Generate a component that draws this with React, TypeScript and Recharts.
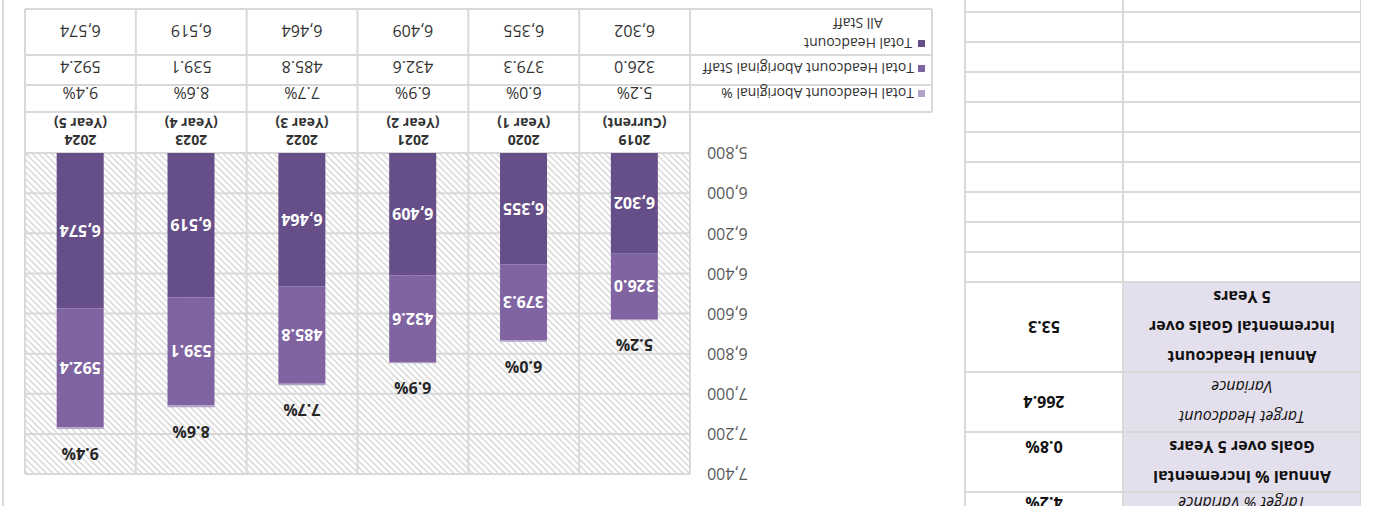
import React from 'react';
import { BarChart, Bar, XAxis, YAxis, CartesianGrid, LabelList } from 'recharts';

// categories and series
const years = ['2019', '2020', '2021', '2022', '2023', '2024'];
const yearNotes = ['(Current)', '(Year 1)', '(Year 2)', '(Year 3)', '(Year 4)', '(Year 5)'];
const totalHeadcount = [6302, 6355, 6409, 6464, 6519, 6574];
const aboriginalStaff = [326.0, 379.3, 432.6, 485.8, 539.1, 592.4];
const aboriginalPct = [5.2, 6.0, 6.9, 7.7, 8.6, 9.4];
const yTicks = [5800, 6000, 6200, 6400, 6600, 6800, 7000, 7200, 7400];
const seriesNames = ['Total Headcount Aboriginal %', 'Total Headcount Aboriginal Staff', 'Total Headcount All Staff'];

// side summary table
const sideLabels = [
  ['Target % Variance'],
  ['Annual % Incremental', 'Goals over 5 Years'],
  ['Target Headcount', 'Variance'],
  ['Annual Headcount', 'Incremental Goals over', '5 Years'],
];
const sideValues = ['4.2%', '0.8%', '266.4', '53.3'];
const sideItalic = [true, false, true, false];

const DARK = '#664f88';
const MID = '#8064a2';
const LIGHT = '#b3a2c7';
const GRID = '#d9d9d9';
const TEXT = '#333333';

const data = years.map((year, i) => ({
  year,
  note: yearNotes[i],
  total: totalHeadcount[i],
  aboriginal: aboriginalStaff[i],
  pct: aboriginalPct[i],
}));

// layout (chart drawn upright, then the whole page is turned round)
const CHART_X = 410;
const CHART_W = 963;
const CHART_H = 506;
const MARGIN = { top: 32, right: 23, bottom: 0, left: 225 };
const Y_W = 50;
const PLOT_L = MARGIN.left + Y_W;
const PLOT_R = CHART_W - MARGIN.right;
const PLOT_B = 353;
const COL_W = (PLOT_R - PLOT_L) / years.length;
const ROW_LINES = [394, 421, 451, 497];
const LEGEND_L = 33;

const fmtInt = (v: number) => v.toLocaleString('en-US');

const DarkLabel = (props: any) => {
  const { x, y, width, height, value } = props;
  const bottom = Math.min(y + height, PLOT_B);
  return (
    <text x={x + width / 2} y={(y + bottom) / 2} fill="#fff" fontSize={16} fontWeight={700}
      textAnchor="middle" dominantBaseline="central">{fmtInt(value)}</text>
  );
};

const MidLabel = (props: any) => {
  const { x, y, width, height, value } = props;
  return (
    <text x={x + width / 2} y={y + height / 2} fill="#fff" fontSize={16} fontWeight={700}
      textAnchor="middle" dominantBaseline="central">{Number(value).toFixed(1)}</text>
  );
};

const PctLabel = (props: any) => {
  const { x, y, width, value } = props;
  return (
    <text x={x + width / 2} y={y - 25} fill="#262626" fontSize={16} fontWeight={700}
      textAnchor="middle" dominantBaseline="central">{Number(value).toFixed(1)}%</text>
  );
};

const TableColumn = (props: any) => {
  const { x, index } = props;
  const d = data[index];
  const left = x - COL_W / 2;
  const right = x + COL_W / 2;
  const txt = { textAnchor: 'middle' as const, dominantBaseline: 'central' as const, fill: TEXT };
  return (
    <g>
      <line x1={right} x2={right} y1={PLOT_B} y2={ROW_LINES[3]} stroke={GRID} strokeWidth={2} />
      {index === 0 && <line x1={left} x2={left} y1={PLOT_B} y2={ROW_LINES[3]} stroke={GRID} strokeWidth={2} />}
      {ROW_LINES.map((ly) => (
        <line key={ly} x1={left} x2={right} y1={ly} y2={ly} stroke={GRID} strokeWidth={2} />
      ))}
      <text x={x} y={366} fontSize={14} fontWeight={700} {...txt}>{d.year}</text>
      <text x={x} y={383} fontSize={14} fontWeight={700} {...txt}>{d.note}</text>
      <text x={x} y={413} fontSize={16} {...txt}>{d.pct.toFixed(1)}%</text>
      <text x={x} y={439} fontSize={16} {...txt}>{d.aboriginal.toFixed(1)}</text>
      <text x={x} y={475} fontSize={16} {...txt}>{fmtInt(d.total)}</text>
      {index === 0 && (
        <g>
          <line x1={LEGEND_L} x2={LEGEND_L} y1={ROW_LINES[0]} y2={ROW_LINES[3]} stroke={GRID} strokeWidth={2} />
          {ROW_LINES.map((ly) => (
            <line key={ly} x1={LEGEND_L} x2={left} y1={ly} y2={ly} stroke={GRID} strokeWidth={2} />
          ))}
          <rect x={LEGEND_L + 7} y={409} width={7} height={7} fill={LIGHT} />
          <text x={LEGEND_L + 18} y={413} fontSize={14} fill={TEXT} dominantBaseline="central">{seriesNames[0]}</text>
          <rect x={LEGEND_L + 7} y={434} width={7} height={7} fill={MID} />
          <text x={LEGEND_L + 18} y={438} fontSize={14} fill={TEXT} dominantBaseline="central">{seriesNames[1]}</text>
          <rect x={LEGEND_L + 7} y={459} width={7} height={7} fill={DARK} />
          <text x={LEGEND_L + 74} y={463} fontSize={14} fill={TEXT} textAnchor="middle" dominantBaseline="central">
            {seriesNames[2].split(' ').slice(0, 2).join(' ')}
          </text>
          <text x={LEGEND_L + 74} y={483} fontSize={14} fill={TEXT} textAnchor="middle" dominantBaseline="central">
            {seriesNames[2].split(' ').slice(2).join(' ')}
          </text>
        </g>
      )}
    </g>
  );
};

const SideTable = () => {
  const heights = [30, 60, 60, 90];
  const rows: { top: number; h: number; i: number }[] = [];
  let top = -16;
  heights.forEach((h, i) => { rows.push({ top, h, i }); top += h; });
  const empties: number[] = [];
  for (let k = 0; k < 10; k++) { empties.push(top); top += 30; }
  const lineTops = [...rows.map((r) => r.top + r.h), ...empties.map((t) => t + 30)];
  return (
    <div style={{ position: 'absolute', left: 0, top: 0, width: 412, height: 506 }}>
      {rows.map((r) => (
        <div key={r.i} style={{ position: 'absolute', top: r.top, height: r.h, left: 14, width: 396, display: 'flex' }}>
          <div style={{
            width: 238, background: '#e4dfec', display: 'flex', flexDirection: 'column',
            justifyContent: r.i < 2 ? 'flex-end' : 'center', alignItems: 'center',
            fontStyle: sideItalic[r.i] ? 'italic' : 'normal', fontWeight: sideItalic[r.i] ? 400 : 700,
            fontSize: 16, lineHeight: r.i === 0 ? '22px' : '30px', color: '#111',
          }}>
            {sideLabels[r.i].map((l) => <div key={l}>{l}</div>)}
          </div>
          <div style={{
            flex: 1, display: 'flex', justifyContent: 'center', alignItems: r.i < 2 ? 'flex-end' : 'center',
            fontWeight: 700, fontSize: 16, lineHeight: r.i === 0 ? '22px' : '30px', color: '#111',
          }}>{sideValues[r.i]}</div>
        </div>
      ))}
      {lineTops.map((t) => (
        <div key={t} style={{ position: 'absolute', top: t - 1, left: 14, width: 396, height: 2, background: GRID }} />
      ))}
      <div style={{ position: 'absolute', top: 0, left: 14, width: 1, height: 506, background: GRID }} />
      <div style={{ position: 'absolute', top: 0, left: 251, width: 2, height: 506, background: GRID }} />
      <div style={{ position: 'absolute', top: 0, left: 409, width: 2, height: 506, background: GRID }} />
    </div>
  );
};

export default function App() {
  return (
    <div style={{
      position: 'absolute', left: 0, top: 0, width: 1375, height: 506, overflow: 'hidden',
      background: '#fff', transform: 'rotate(180deg)', fontFamily: '"Open Sans", sans-serif',
    }}>
      <svg width={0} height={0} style={{ position: 'absolute' }}>
        <defs>
          <pattern id="hatch" width="4.5" height="4.5" patternUnits="userSpaceOnUse" patternTransform="rotate(-45)">
            <rect width="4.5" height="4.5" fill="#fff" />
            <rect width="1.8" height="4.5" fill="#dedede" />
          </pattern>
        </defs>
      </svg>
      <SideTable />
      <div style={{ position: 'absolute', left: 1371, top: 0, width: 2, height: 506, background: GRID }} />
      <div style={{ position: 'absolute', left: CHART_X, top: 0 }}>
        <BarChart width={CHART_W} height={CHART_H} data={data} margin={MARGIN} barCategoryGap="29%">
          <CartesianGrid
            fill="url(#hatch)"
            fillOpacity={1}
            stroke={GRID}
            strokeWidth={2}
            verticalCoordinatesGenerator={({ offset }: any) =>
              years.map((_, i) => offset.left + (i * offset.width) / years.length).concat(offset.left + offset.width)}
          />
          <XAxis dataKey="year" axisLine={false} tickLine={false} height={153} interval={0}
            tick={(p: any) => <TableColumn {...p} />} />
          <YAxis type="number" domain={[5800, 7400]} ticks={yTicks} allowDataOverflow width={Y_W}
            axisLine={false} tickLine={false} tickSize={0} tickMargin={17}
            tick={{ fill: '#595959', fontSize: 16 }} tickFormatter={fmtInt} />
          <Bar dataKey="total" stackId="a" fill={DARK} isAnimationActive={false}>
            <LabelList dataKey="total" content={DarkLabel} />
          </Bar>
          <Bar dataKey="aboriginal" stackId="a" fill={MID} isAnimationActive={false}>
            <LabelList dataKey="aboriginal" content={MidLabel} />
          </Bar>
          <Bar dataKey="pct" stackId="a" fill={LIGHT} isAnimationActive={false}>
            <LabelList dataKey="pct" content={PctLabel} />
          </Bar>
        </BarChart>
      </div>
    </div>
  );
}
